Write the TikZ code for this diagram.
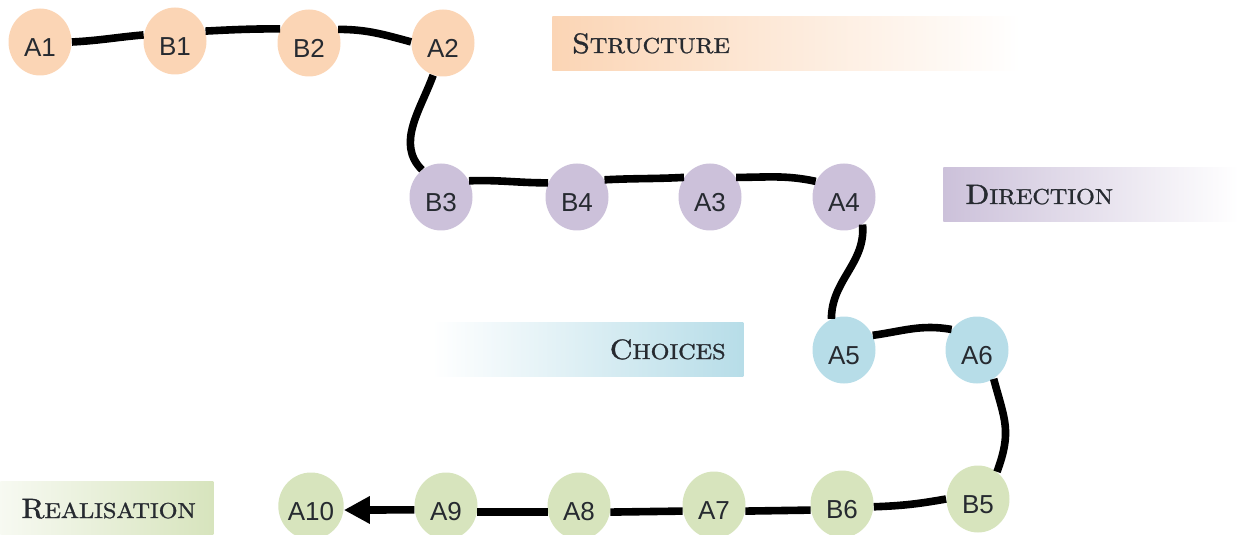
\documentclass[tikz,border=0pt]{standalone}
\usepackage{fontspec}
\newfontfamily\nodefont{Liberation Sans}
\newfontfamily\bannerfont[FakeBold=1.2]{lmroman10-regular.otf}
\usetikzlibrary{shapes.geometric,arrows.meta}
\definecolor{peach}{HTML}{FBD5B5}
\definecolor{lav}{HTML}{CCC1DA}
\definecolor{aqua}{HTML}{B7DDE8}
\definecolor{olive}{HTML}{D7E4BD}
\definecolor{ink}{HTML}{262A30}
\newcommand\bannertext[2]{\scalebox{1.12}[1]{\bannerfont\fontsize{14}{14}\selectfont #1\fontsize{10.8}{11}\selectfont #2}}
\begin{document}
\begin{tikzpicture}[x=0.5pt,y=-0.5pt,
  stop/.style={ellipse, minimum width=31.5pt, minimum height=33.5pt, inner sep=0pt,
    text=ink, font={\nodefont\fontsize{13}{13}\selectfont}, text height=14.3pt, text depth=0pt},
  link/.style={line width=3.8pt, black},
  banner/.style={rectangle, inner sep=0pt, minimum height=27pt, anchor=north west},
  bannerlbl/.style={inner sep=0pt, text=ink}]
\useasboundingbox (0,0) rectangle (1238,535);

% banners
\node[banner, minimum width=234pt, left color=peach, right color=white] (bS) at (552,16) {};
\node[bannerlbl, anchor=base west] (lS) at (572,53) {\bannertext{S}{TRUCTURE}};
\node[banner, minimum width=147.5pt, left color=lav, right color=white] (bD) at (943,167) {};
\node[bannerlbl, anchor=base west] (lD) at (965,204) {\bannertext{D}{IRECTION}};
\node[banner, minimum width=155.5pt, left color=white, right color=aqua] (bC) at (432,322) {};
\node[bannerlbl, anchor=base east] (lC) at (726,359) {\bannertext{C}{HOICES}};
\node[banner, minimum width=106.5pt, left color=olive!20, right color=olive] (bR) at (0,481) {};
\node[bannerlbl, anchor=base west] (lR) at (21,518) {\bannertext{R}{EALISATION}};

% nodes
\node[stop, fill=peach] (A1) at (40,42) {A1};
\node[stop, fill=peach] (B1) at (175,41) {B1};
\node[stop, fill=peach] (B2) at (309,43) {B2};
\node[stop, fill=peach] (A2) at (443,43) {A2};
\node[stop, fill=lav] (B3) at (441,197) {B3};
\node[stop, fill=lav] (B4) at (577,197) {B4};
\node[stop, fill=lav] (A3) at (710,197) {A3};
\node[stop, fill=lav] (A4) at (844,197) {A4};
\node[stop, fill=aqua] (A5) at (844,350) {A5};
\node[stop, fill=aqua] (A6) at (977,350) {A6};
\node[stop, fill=olive] (B5) at (978,499) {B5};
\node[stop, fill=olive] (B6) at (842,504) {B6};
\node[stop, fill=olive] (A7) at (714,505) {A7};
\node[stop, fill=olive] (A8) at (579,506) {A8};
\node[stop, fill=olive] (A9) at (446,506) {A9};
\node[stop, fill=olive] (A10) at (311,506) {A10};

% connectors
\draw[link] (A1.0) to[out=3,in=185] (B1.169);
\draw[link] (B1.18) to[out=3,in=180] (B2.154);
\draw[link] (B2.25) to[out=0,in=165] (A2.178);
\draw[link] (A2.253) to[out=-110,in=135] (B3.125);
\draw[link] (B3.30) to[out=2,in=180] (B4.154);
\draw[link] (B4.32) to[out=3,in=183] (A3.143);
\draw[link] (A3.37) to[out=0,in=168] (A4.151);
\draw[link] (A4.304) to[out=-85,in=90] (A5.112);
\draw[link] (A5.27) to[out=8,in=170] (A6.141);
\draw[link] (A6.300) to[out=-75,in=70,looseness=1.2] (B5.55);
\draw[link] (B5.180) to[out=190,in=2] (B6.355);
\draw[link] (B6.191) -- (A7.349);
\draw[link] (A7.191) -- (A8.349);
\draw[link] (A8.191) -- (A9.349);
\draw[link, -{Triangle[length=13pt,width=13pt]}] (A9.187) -- (A10.353);
\end{tikzpicture}
\end{document}
